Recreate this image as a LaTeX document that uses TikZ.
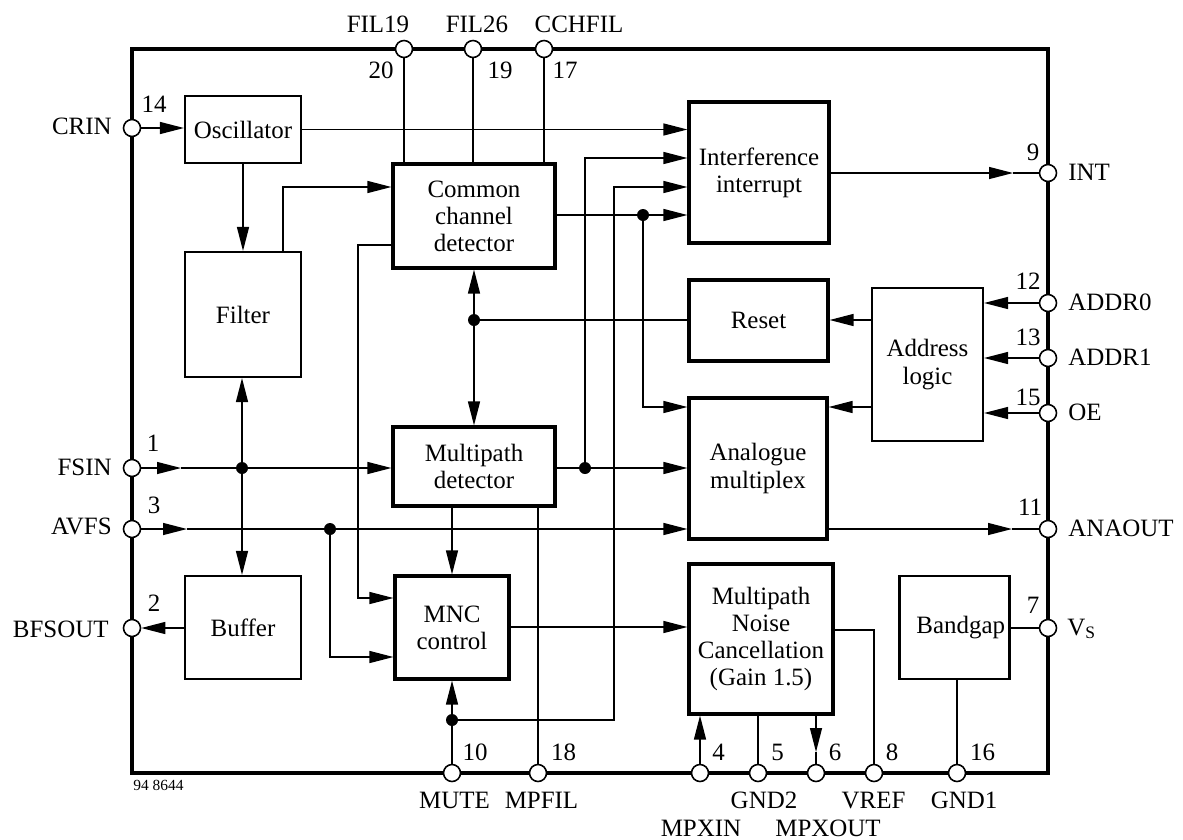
\documentclass[tikz,border=0pt]{standalone}
\usepackage{fontspec}
\setmainfont{Liberation Serif}
\usetikzlibrary{arrows.meta,backgrounds}
\begin{document}
\begin{tikzpicture}[x=0.02cm,y=-0.02cm,
  font=\fontsize{14.2}{15.4}\selectfont,
  conn/.style={line width=0.75pt},
  arr/.style={conn,-{Triangle[length=0.48cm,width=0.24cm]}},
  arrboth/.style={conn,{Triangle[length=0.48cm,width=0.24cm]}-{Triangle[length=0.48cm,width=0.24cm]}},
  blk/.style={draw,line width=1.8pt,inner sep=0pt,align=center},
  blkthin/.style={blk,line width=1.2pt},
  sz/.style 2 args={minimum width=#1*0.02cm,minimum height=#2*0.02cm},
  port/.style={circle,draw,fill=white,line width=0.9pt,minimum size=0.34cm,inner sep=0pt},
  dot/.style={circle,fill,inner sep=0pt,minimum size=0.24cm},
  frameline/.style={line width=2.6pt},
  txt/.style={inner sep=0pt},
]
\useasboundingbox (0,0) rectangle (1183,839);

% blocks
\node[blkthin,sz={116}{67}] (osc) at (243,129.5) {Oscillator};
\node[blkthin,sz={116}{125}] (filter) at (243,314.5) {Filter};
\node[blkthin,sz={116}{103}] (buffer) at (243,627.5) {Buffer};
\node[blk,sz={162}{104}] (ccd) at (474,216) {Common\\channel\\detector};
\node[blk,sz={162}{79}] (md) at (474,466.5) {Multipath\\detector};
\node[blk,sz={114}{103}] (mnc) at (452,627.5) {MNC\\control};
\node[blk,sz={140}{141}] (ii) at (759,172.5) {Interference\\interrupt};
\node[blk,sz={139}{81}] (reset) at (758.5,320.5) {Reset};
\node[blkthin,sz={111}{153}] (al) at (927.5,364.5) {Address\\logic};
\node[blk,sz={138}{141}] (am) at (758,468.5) {Analogue\\multiplex};
\node[blk,sz={144}{150}] (mpnc) at (761,639) {Multipath\\Noise\\Cancellation\\(Gain 1.5)};
\node[blkthin,sz={110}{103}] (bg) at (954.5,627.5) {\hspace*{0.25cm}Bandgap};

% pins
\node[port] (crin) at (132,128) {};
\node[port] (fsin) at (132,468) {};
\node[port] (avfs) at (132,529) {};
\node[port] (bfsout) at (132,628) {};
\node[port] (fil19) at (404,49) {};
\node[port] (fil26) at (473,49) {};
\node[port] (cchfil) at (544,49) {};
\node[port] (int) at (1048,173) {};
\node[port] (addr0) at (1048,303) {};
\node[port] (addr1) at (1048,358) {};
\node[port] (oe) at (1048,413) {};
\node[port] (anaout) at (1048,529) {};
\node[port] (vs) at (1048,628) {};
\node[port] (mute) at (452,773) {};
\node[port] (mpfil) at (538,773) {};
\node[port] (mpxin) at (700,773) {};
\node[port] (gnd2) at (758,773) {};
\node[port] (mpxout) at (816,773) {};
\node[port] (vref) at (874,773) {};
\node[port] (gnd1) at (957,773) {};

% junctions
\node[dot] (j1) at (242,468) {};
\node[dot] (j2) at (585,468) {};
\node[dot] (j3) at (643,215) {};
\node[dot] (j4) at (474,320) {};
\node[dot] (j5) at (330,529) {};
\node[dot] (j6) at (452,720) {};

% bend / arrow coordinates
\coordinate (fo) at (283,187);
\coordinate (cm1) at (358,245);
\coordinate (cm2) at (358,598);
\coordinate (ja) at (643,407);
\coordinate (fsA) at (181,468);
\coordinate (ib) at (585,158);
\coordinate (avA) at (187,529);
\coordinate (jm) at (330,657);
\coordinate (mu1) at (614,720);
\coordinate (mu2) at (614,187);
\coordinate (nc) at (600,627);
\coordinate (vr) at (874,630);
\coordinate (moA) at (816,752);
\coordinate (inA) at (1013,173);
\coordinate (anA) at (1012,529);

\begin{pgfonlayer}{background}
\draw[frameline] (132,49) rectangle (1048,773);
\draw[arr] (crin.center) -- (crin.center -| osc.west);
\draw[arr] (osc.east) -- (osc.east -| ii.west);
\draw[arr] (osc.south) -- (filter.north);
\draw[arr] (fo |- filter.north) -- (fo) -- (fo -| ccd.west);
\draw[arr] (cm1 -| ccd.west) -- (cm1) -- (cm2) -- (cm2 -| mnc.west);
\draw[conn] (fil19.center) -- (fil19.center |- ccd.north);
\draw[conn] (fil26.center) -- (fil26.center |- ccd.north);
\draw[conn] (cchfil.center) -- (cchfil.center |- ccd.north);
\draw[arr] (j3 -| ccd.east) -- (j3 -| ii.west);
\draw[arr] (j3.center) -- (ja) -- (ja -| am.west);
\draw[arr] (fsin.center) -- (fsA);
\draw[arr] (fsA) -- (fsA -| md.west);
\draw[arr] (j1.center) -- (j1 |- filter.south);
\draw[arr] (j1.center) -- (j1 |- buffer.north);
\draw[arr] (j2 -| md.east) -- (j2 -| am.west);
\draw[arr] (j2.center) -- (ib) -- (ib -| ii.west);
\draw[arrboth] (j4 |- ccd.south) -- (j4 |- md.north);
\draw[conn] (j4.center) -- (j4 -| reset.west);
\draw[arr] (avfs.center) -- (avA);
\draw[arr] (avA) -- (avA -| am.west);
\draw[arr] (j5.center) -- (jm) -- (jm -| mnc.west);
\draw[arr] (mnc.north |- md.south) -- (mnc.north);
\draw[conn] (mpfil.center |- md.south) -- (mpfil.center);
\draw[arr] (mute.center) -- (mute.center |- mnc.south);
\draw[arr] (j6.center) -- (mu1) -- (mu2) -- (mu2 -| ii.west);
\draw[arr] (nc -| mnc.east) -- (nc -| mpnc.west);
\draw[conn] (vr -| mpnc.east) -- (vr) -- (vref.center);
\draw[arr] (mpxin.center) -- (mpxin.center |- mpnc.south);
\draw[conn] (gnd2.center) -- (gnd2.center |- mpnc.south);
\draw[arr] (moA |- mpnc.south) -- (moA);
\draw[conn] (moA) -- (mpxout.center);
\draw[arr] (inA -| ii.east) -- (inA);
\draw[conn] (inA) -- (int.center);
\draw[arr] (addr0.center) -- (addr0.center -| al.east);
\draw[arr] (addr1.center) -- (addr1.center -| al.east);
\draw[arr] (oe.center) -- (oe.center -| al.east);
\draw[arr] (j4 -| al.west) -- (j4 -| reset.east);
\draw[arr] (ja -| al.west) -- (ja -| am.east);
\draw[arr] (anA -| am.east) -- (anA);
\draw[conn] (anA) -- (anaout.center);
\draw[conn] (vs.center -| bg.east) -- (vs.center);
\draw[conn] (gnd1.center |- bg.south) -- (gnd1.center);
\draw[arr] (bfsout.center -| buffer.west) -- (bfsout.east);
\end{pgfonlayer}

% pin names
\node[txt,anchor=base east] (tcrin) at (112,134) {CRIN};
\node[txt,anchor=base east] (tfsin) at (112,475) {FSIN};
\node[txt,anchor=base east] (tavfs) at (112,534) {AVFS};
\node[txt,anchor=base east] (tbfs) at (109,637) {BFSOUT};
\node[txt,anchor=base west] (tint) at (1068,180) {INT};
\node[txt,anchor=base west] (ta0) at (1068,310) {ADDR0};
\node[txt,anchor=base west] (ta1) at (1068,365) {ADDR1};
\node[txt,anchor=base west] (toe) at (1068,420) {OE};
\node[txt,anchor=base west] (tana) at (1068,536) {ANAOUT};
\node[txt,anchor=base west] (tvs) at (1067,635) {V\textsubscript{S}};
\node[txt,anchor=base] (tf19) at (378,32) {FIL19};
\node[txt,anchor=base] (tf26) at (477,32) {FIL26};
\node[txt,anchor=base] (tcch) at (579,32) {CCHFIL};
\node[txt,anchor=base] (tmute) at (454.5,808) {MUTE};
\node[txt,anchor=base] (tmpfil) at (541.5,808) {MPFIL};
\node[txt,anchor=base] (tgnd2) at (764,808) {GND2};
\node[txt,anchor=base] (tvref) at (873.5,808) {VREF};
\node[txt,anchor=base] (tgnd1) at (964,808) {GND1};
\node[txt,anchor=base] (tmpxin) at (701,836) {MPXIN};
\node[txt,anchor=base] (tmpxout) at (828,836) {MPXOUT};

% pin numbers
\node[txt,anchor=base] (n14) at (154,112) {14};
\node[txt,anchor=base] (n20) at (381,78) {20};
\node[txt,anchor=base] (n19) at (500,78) {19};
\node[txt,anchor=base] (n17) at (565,78) {17};
\node[txt,anchor=base] (n1) at (153,451) {1};
\node[txt,anchor=base] (n3) at (154,513) {3};
\node[txt,anchor=base] (n2) at (154,611) {2};
\node[txt,anchor=base] (n9) at (1033,160) {9};
\node[txt,anchor=base] (n12) at (1028,289) {12};
\node[txt,anchor=base] (n13) at (1028,345) {13};
\node[txt,anchor=base] (n15) at (1028,405) {15};
\node[txt,anchor=base] (n11) at (1030,515) {11};
\node[txt,anchor=base] (n7) at (1033,613) {7};
\node[txt,anchor=base] (n10) at (475,760) {10};
\node[txt,anchor=base] (n18) at (563.5,760) {18};
\node[txt,anchor=base] (n4) at (718.5,760) {4};
\node[txt,anchor=base] (n5) at (777.5,760) {5};
\node[txt,anchor=base] (n6) at (835,760) {6};
\node[txt,anchor=base] (n8) at (892,760) {8};
\node[txt,anchor=base] (n16) at (982.5,760) {16};
\node[txt,anchor=base west,font=\fontsize{8.8}{10}\selectfont] (code) at (133,790) {94 8644};
\end{tikzpicture}
\end{document}
